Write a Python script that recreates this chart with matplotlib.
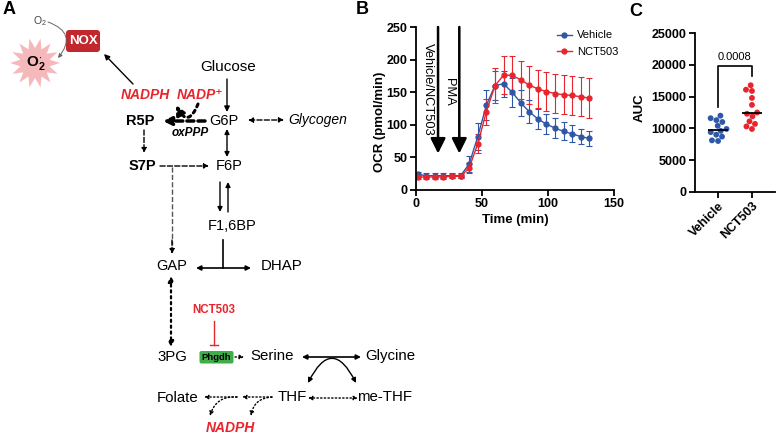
import numpy as np
import pandas as pd
import matplotlib.pyplot as plt
import seaborn as sns
from matplotlib.patches import FancyBboxPatch, Polygon
from matplotlib.lines import Line2D

plt.rcParams['font.family'] = ['Liberation Sans', 'DejaVu Sans']
plt.rcParams['mathtext.fontset'] = 'custom'
plt.rcParams['mathtext.rm'] = 'Liberation Sans'
plt.rcParams['mathtext.bf'] = 'Liberation Sans:bold'
plt.rcParams['mathtext.it'] = 'Liberation Sans:italic'

# ---- panel B data (Seahorse OCR trace) ----
time_min = [1.3, 7.8, 14.3, 20.8, 27.3, 33.8, 40.3, 46.8, 53.3, 59.8, 66.3,
            72.8, 79.3, 85.8, 92.3, 98.8, 105.3, 111.8, 118.3, 124.8, 131.3]
vehicle_ocr = [24, 22, 22, 22, 22, 22, 40, 82, 130, 160, 163,
               150, 134, 120, 109, 101, 95, 90, 86, 82, 79]
vehicle_sem = [4, 4, 4, 4, 4, 4, 12, 20, 23, 22, 20,
               22, 20, 18, 16, 15, 15, 14, 13, 12, 12]
nct_ocr = [20, 20, 20, 20, 21, 21, 34, 71, 120, 160, 176,
           176, 169, 161, 155, 151, 148, 146, 145, 143, 141]
nct_sem = [3, 3, 3, 3, 3, 3, 8, 15, 20, 27, 29,
           29, 29, 29, 29, 30, 30, 30, 30, 30, 31]
injections = [16.7, 32.8]
injection_names = ["Vehicle/NCT503", "PMA"]

# ---- panel C data (AUC) ----
groups = ["Vehicle", "NCT503"]
auc_vehicle = [12000, 11600, 11300, 11000, 10400, 9900, 9600, 9400, 9000, 8700, 8100, 8000]
auc_nct = [16800, 16100, 15900, 14800, 13700, 12500, 12300, 11900, 11100, 10700, 10300, 9900]
p_text = "0.0008"

BLUE = '#2f57a8'
RED = '#e8242c'

fig = plt.figure(figsize=(7.77, 4.38), dpi=100)

# ================= panel A: pathway sketch (pixel coords) =================
ax = fig.add_axes([0, 0, 1, 1])
ax.set_xlim(0, 777)
ax.set_ylim(438, 0)
ax.axis('off')


def arr(p0, p1, ls='-', lw=1.0, style='-|>', rad=0.0, ms=8, color='k'):
    ax.annotate('', xy=p1, xytext=p0,
                arrowprops=dict(arrowstyle=style, color=color, lw=lw, linestyle=ls,
                                shrinkA=0, shrinkB=0, mutation_scale=ms,
                                connectionstyle='arc3,rad=%s' % rad))


def lab(x, y, s, size=10.5, weight='normal', style='normal', color='k', **kw):
    ax.text(x, y, s, fontsize=size, fontweight=weight, fontstyle=style,
            color=color, ha='center', va='center', **kw)


ax.text(3, 9, 'A', fontsize=13, fontweight='bold', ha='left', va='center')
ax.text(356, 10, 'B', fontsize=13, fontweight='bold', ha='left', va='center')
ax.text(629, 11, 'C', fontsize=13, fontweight='bold', ha='left', va='center')

# superoxide burst
ang = np.linspace(0, 2 * np.pi, 29)[:-1]
rr = np.where(np.arange(28) % 2 == 0, 25, 15)
ax.add_patch(Polygon(np.c_[35 + rr * np.cos(ang), 63 + rr * np.sin(ang)],
                     closed=True, fc='#f6b9bb', ec='none'))
lab(36, 63, r'$\mathbf{O}^{\mathbf{\cdot}}_{\mathbf{2}}$', size=11)
lab(40, 21, r'O$_2$', size=7.5, color='#444444')
arr((48, 22), (58, 58), lw=0.7, rad=-0.7, ms=6, color='#666666')

ax.add_patch(FancyBboxPatch((66, 30), 34, 22, boxstyle='round,pad=0,rounding_size=3',
                            fc='#c1272d', ec='none'))
lab(83, 41, 'NOX', size=9.5, weight='bold', color='white')

lab(145, 95, 'NADPH', size=10, weight='bold', style='italic', color=RED)
lab(200, 95, 'NADP\u207a', size=10, weight='bold', style='italic', color=RED)
arr((133, 84), (104, 54), lw=1.0)

lab(228, 67, 'Glucose', size=11)
arr((227, 79), (227, 112))
lab(224, 121, 'G6P')
lab(140, 121, 'R5P', weight='bold')
lab(190, 133, 'oxPPP', size=8.5, weight='bold', style='italic')
lab(318, 120, 'Glycogen', size=10, style='italic')
arr((205, 121), (163, 121), ls=(0, (2, 1.2)), lw=2.5, ms=12)
arr((198, 104), (176, 105), ls=(0, (1, 1.3)), lw=2.2, rad=-1.1, ms=14)
arr((248, 120), (284, 120), ls='--', lw=1.0, style='<|-|>', ms=7)
arr((227, 129), (227, 157), style='<|-|>', ms=7)

lab(142, 166, 'S7P', weight='bold')
lab(229, 166, 'F6P')
arr((144, 130), (144, 153), ls='--', ms=7)
arr((160, 166), (209, 166), ls='--', ms=7)
ax.plot([172, 172], [167, 245], color='#555555', lw=1.0, ls='--')
arr((172, 240), (172, 254), ls='--', ms=7)

arr((220, 182), (220, 212), ms=7)
arr((228, 212), (228, 182), ms=7)
lab(232, 226, 'F1,6BP')
ax.plot([223, 223], [240, 268], color='k', lw=1.2)
arr((196, 268), (251, 268), style='<|-|>', lw=1.2, ms=7)
lab(172, 266, 'GAP')
lab(282, 266, 'DHAP', size=10.8)
arr((171, 276), (171, 347), ls=':', lw=1.6, style='<|-|>', ms=8)

lab(214, 310, 'NCT503', size=8.3, weight='bold', color=RED)
ax.plot([214, 214], [321, 345], color=RED, lw=1.0)
ax.plot([210, 218], [345, 345], color=RED, lw=1.0)
lab(172, 357, '3PG', size=10.8)
ax.add_patch(FancyBboxPatch((199.5, 351), 34, 12.5, boxstyle='round,pad=0,rounding_size=2',
                            fc='#3fae49', ec='none'))
lab(216.5, 357.5, 'Phgdh', size=6.8, weight='bold')
arr((235, 357), (244, 357), ls=':', ms=6)
lab(272, 356, 'Serine', size=10.8)
lab(390, 356, 'Glycine', size=10.8)
arr((302, 357), (361, 357), style='<|-|>', lw=1.2, ms=7)
arr((308, 383), (356, 383), style='<|-|>', rad=-1.0, lw=1.0, ms=7)

lab(292, 397, 'THF', size=10.8)
lab(385, 397, 'me-THF', size=10.8)
lab(178, 398, 'Folate', size=10.8)
arr((308, 398), (358, 398), ls=':', style='<|-|>', ms=6)
arr((272, 397), (242, 397), ls=':', ms=6)
arr((237, 397), (204, 397), ls=':', ms=6)
arr((272, 397), (251, 416), ls=':', rad=0.4, ms=6)
arr((237, 397), (210, 416), ls=':', rad=0.4, ms=6)
lab(230, 428, 'NADPH', size=10, weight='bold', style='italic', color=RED)

# ================= panel B: OCR trace =================
axb = fig.add_axes([416 / 777, 1 - 190 / 438, 198 / 777, 163 / 438])
axb.errorbar(time_min, vehicle_ocr, yerr=vehicle_sem, color=BLUE, marker='o', ms=3.5,
             lw=1.0, elinewidth=0.8, capsize=2.5, capthick=0.8)
axb.errorbar(time_min, nct_ocr, yerr=nct_sem, color=RED, marker='o', ms=3.5,
             lw=1.0, elinewidth=0.8, capsize=2.5, capthick=0.8)
for xi, name, tx, ty in zip(injections, injection_names, [9.1, 25], [226, 172]):
    axb.annotate('', xy=(xi, 56), xytext=(xi, 250),
                 arrowprops=dict(arrowstyle='-|>,head_length=0.9,head_width=0.45',
                                 color='k', lw=1.8, shrinkA=0, shrinkB=0, mutation_scale=10))
    axb.text(tx, ty, name, rotation=-90, fontsize=9.3, ha='center', va='top')
axb.set_xlim(0, 150)
axb.set_ylim(0, 250)
axb.set_xticks([0, 50, 100, 150])
axb.set_yticks([0, 50, 100, 150, 200, 250])
axb.set_xlabel('Time (min)', fontsize=9.5, fontweight='bold')
axb.set_ylabel('OCR (pmol/min)', fontsize=9.5, fontweight='bold')
axb.xaxis.set_label_coords(0.5, -0.15)
axb.yaxis.set_label_coords(-0.15, 0.42)
handles = [Line2D([], [], color=BLUE, marker='o', ms=3.5, lw=1.0),
           Line2D([], [], color=RED, marker='o', ms=3.5, lw=1.0)]
axb.legend(handles, groups, loc='upper left', bbox_to_anchor=(0.66, 1.04), frameon=False,
           fontsize=8, handlelength=1.4, handletextpad=0.4, labelspacing=0.6)

# ================= panel C: AUC =================
axc = fig.add_axes([695 / 777, 1 - 191.7 / 438, 80 / 777, 158.4 / 438])
df = pd.DataFrame({'group': [groups[0]] * len(auc_vehicle) + [groups[1]] * len(auc_nct),
                   'auc': auc_vehicle + auc_nct})
sns.swarmplot(data=df, x='group', y='auc', hue='group', palette=[BLUE, RED],
              size=4.2, ax=axc, legend=False, order=groups)
for i, vals in enumerate([auc_vehicle, auc_nct]):
    axc.hlines(np.median(vals), i - 0.3, i + 0.3, color='k', lw=1.3, zorder=5)
axc.plot([0, 0, 1, 1], [13300, 19900, 19900, 18300], color='k', lw=1.2)
axc.text(0.5, 20400, p_text, fontsize=8, ha='center', va='bottom')
axc.set_xlim(-0.68, 1.68)
axc.set_ylim(0, 25000)
axc.set_yticks([0, 5000, 10000, 15000, 20000, 25000])
axc.set_xticks([0, 1])
axc.set_xticklabels(groups, rotation=45, ha='right', rotation_mode='anchor')
axc.set_xlabel('')
axc.set_ylabel('AUC', fontsize=9.5, fontweight='bold')
axc.yaxis.set_label_coords(-0.62, 0.53)

for a in (axb, axc):
    a.spines['top'].set_visible(False)
    a.spines['right'].set_visible(False)
    for s in ('left', 'bottom'):
        a.spines[s].set_linewidth(1.3)
    a.tick_params(direction='out', length=4, width=1.3, labelsize=9, pad=2)
    for t in a.get_xticklabels() + a.get_yticklabels():
        t.set_fontweight('bold')

fig.savefig('out.png', dpi=100)
